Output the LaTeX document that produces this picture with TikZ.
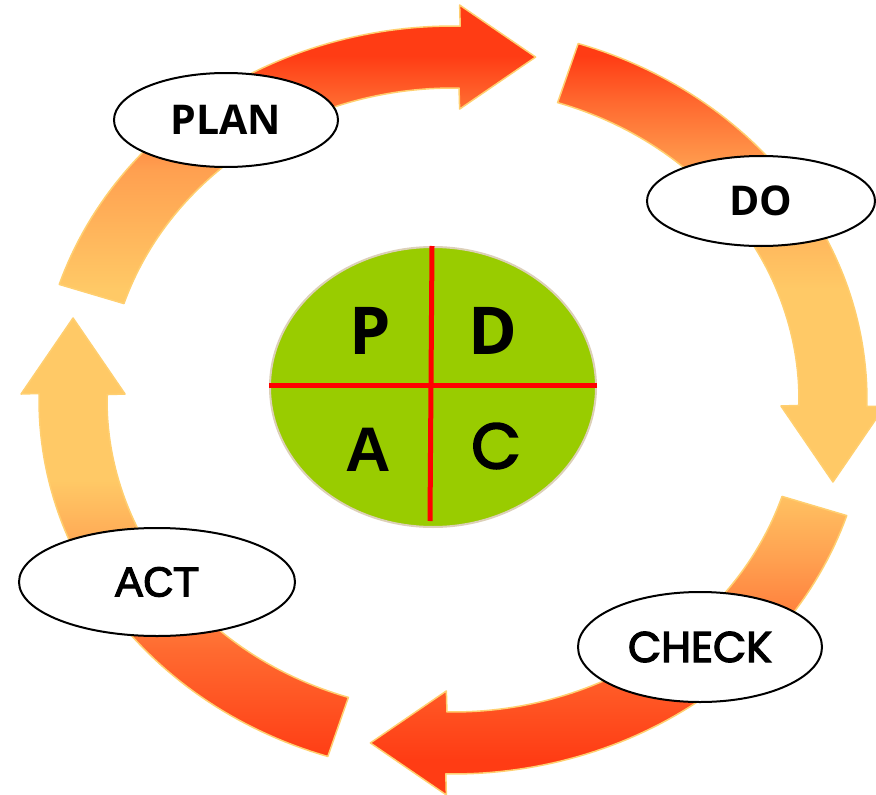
\documentclass[tikz,border=0pt]{standalone}
\usepackage{fontspec}
\usetikzlibrary{shapes.geometric}
\newfontfamily\osans{Open Sans}
\newfontfamily\lsans{Liberation Sans}
\newfontfamily\lsansm[FakeBold=2.5]{Liberation Sans}
\newfontfamily\popf[FakeBold=3]{Poppins}
\definecolor{ringred}{HTML}{FF3C14}
\definecolor{ringor2}{HTML}{FF6A30}
\definecolor{ringor1}{HTML}{FFA050}
\definecolor{ringyel}{HTML}{FFC966}
\definecolor{ringedge}{HTML}{FFCF70}
\definecolor{pdcagreen}{HTML}{99CC00}
\definecolor{pdcarim}{HTML}{DCD0B8}
\pgfdeclareverticalshading{ringshade}{100bp}{color(0bp)=(ringred); color(27.2bp)=(ringred); color(34.1bp)=(ringor2); color(39.8bp)=(ringor1); color(44.8bp)=(ringyel); color(56.8bp)=(ringyel); color(64.3bp)=(ringor1); color(68.5bp)=(ringor2); color(71.5bp)=(ringred); color(100bp)=(ringred)}
\def\cx{453}\def\cy{400}
\def\rox{414}\def\roy{374}
\def\rix{346}\def\riy{312}
\def\hw{52}\def\hl{76}
% #1 start angle, #2 end angle, #3 #4 tangent direction at the head, #5 name
\newcommand\ringarrow[5]{%
  \pgfmathsetmacro\ox{\cx+\rox*cos(#2)}%
  \pgfmathsetmacro\oy{\cy+\roy*sin(#2)}%
  \pgfmathsetmacro\ix{\cx+\rix*cos(#2)}%
  \pgfmathsetmacro\iy{\cy+\riy*sin(#2)}%
  \pgfmathsetmacro\mx{(\ox+\ix)/2}%
  \pgfmathsetmacro\my{(\oy+\iy)/2}%
  \coordinate (#5-bo) at ({\mx+\hw*(#4)},{\my-\hw*(#3)});
  \coordinate (#5-bi) at ({\mx-\hw*(#4)},{\my+\hw*(#3)});
  \coordinate (#5-tip) at ({\mx+\hl*(#3)},{\my+\hl*(#4)});
  \begin{scope}
    \clip plot[domain=#1:#2,samples=60] ({\cx+\rox*cos(\x)},{\cy+\roy*sin(\x)})
      -- (#5-bo) -- (#5-tip) -- (#5-bi)
      -- plot[domain=-#2:-#1,samples=60] ({\cx+\rix*cos(-\x)},{\cy+\riy*sin(-\x)}) -- cycle;
    \shade[shading=ringshade] (0,0) rectangle (876,795);
  \end{scope}
  \draw[ringline] plot[domain=#1:#2,samples=60] ({\cx+\rox*cos(\x)},{\cy+\roy*sin(\x)})
      -- (#5-bo) -- (#5-tip) -- (#5-bi)
      -- plot[domain=-#2:-#1,samples=60] ({\cx+\rix*cos(-\x)},{\cy+\riy*sin(-\x)}) -- cycle;
}
\begin{document}
\begin{tikzpicture}[x=1pt,y=-1pt,
  ringline/.style={draw=ringedge,line width=1.5pt,line join=round},
  label/.style={ellipse,draw=black,line width=2pt,fill=white,inner sep=0pt},
  quad/.style={inner sep=0pt,text=black},
  redline/.style={draw=red,line width=5pt}]
\useasboundingbox (0,0) rectangle (876,795);
\clip (0,0) rectangle (876,795);
% ring arrows
\ringarrow{198}{271}{1}{0}{planarrow}
\ringarrow{287.6}{361}{0}{1}{doarrow}
\ringarrow{18}{91}{-1}{0}{checkarrow}
\ringarrow{107.6}{181}{0}{-1}{actarrow}
% centre
\node[ellipse,fill=pdcagreen,draw=pdcarim,line width=2pt,minimum width=326pt,minimum height=280pt,inner sep=0pt] (pdca) at (433,387) {};
\draw[redline] ([xshift=-1pt]pdca.north) -- ([xshift=-3pt,yshift=7pt]pdca.south);
\draw[redline] ([yshift=2pt]pdca.west) -- ([yshift=2pt]pdca.east);
\node[quad,font=\osans\bfseries\fontsize{66}{66}\selectfont] (p) at (370,331) {P};
\node[quad,font=\osans\bfseries\fontsize{66}{66}\selectfont] (d) at (493,331) {D};
\node[quad,font=\lsans\bfseries\fontsize{63}{63}\selectfont] (a) at (368,450) {A};
\node[quad,font=\popf\fontsize{64}{64}\selectfont] (c) at (496,446) {C};
% labels
\node[label,minimum width=224pt,minimum height=94pt,font=\osans\bfseries\fontsize{41}{41}\selectfont] (plan) at (226,120) {PLAN};
\node[label,minimum width=228pt,minimum height=90pt,font=\osans\bfseries\fontsize{41}{41}\selectfont] (do) at (761,201) {DO};
\node[label,minimum width=276pt,minimum height=108pt,font=\lsansm\fontsize{42}{42}\selectfont] (act) at (157,582) {ACT};
\node[label,minimum width=244pt,minimum height=110pt,font=\popf\fontsize{43}{43}\selectfont] (check) at (700,647) {CHECK};
\end{tikzpicture}
\end{document}
